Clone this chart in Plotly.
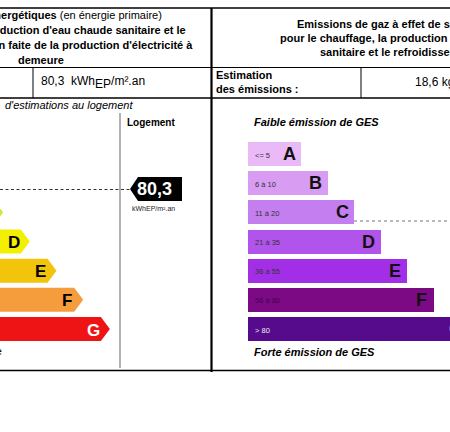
import plotly.graph_objects as go

# ---------------- data ----------------
energy_classes = ["A", "B", "C", "D", "E", "F", "G"]
energy_colors = ["#319834", "#33cc31", "#cbe834", "#f2f000", "#f2c40c", "#f59d3d", "#ee1416"]
energy_letter_colors = ["black", "black", "black", "black", "black", "black", "white"]
energy_value = "80,3"
energy_unit = "kWhEP/m².an"

ges_classes = ["A", "B", "C", "D", "E", "F", "G"]
ges_ranges = ["<= 5", "6 à 10", "11 à 20", "21 à 35", "36 à 55", "56 à 80", "> 80"]
ges_colors = ["#eabaf8", "#d89cf3", "#c47ef0", "#b154ec", "#a22fe6", "#7c0a84", "#560a8c"]
ges_letter_colors = ["#111111", "#111111", "#111111", "#111111", "#111111", "#111111", "#eeeeee"]
ges_range_colors = ["#333333", "#333333", "#333333", "#333333", "#333333", "#4a0050", "#f0f0f0"]
ges_value = "18,6"

# ---------------- layout geometry ----------------
row_c0, row_step, half_h = 154, 29.17, 12
energy_tip0, step_len, depth = -77, 26.7, 9
ges_left, ges_step = 248, 26.5

FONT = "Liberation Sans, Arial, sans-serif"
fig = go.Figure()

ann = []
def text(x, y, t, size=11, color="black", xanchor="left", bold=False, italic=False):
    if bold:
        t = "<b>" + t + "</b>"
    if italic:
        t = "<i>" + t + "</i>"
    ann.append(dict(x=x, y=y, xref="x", yref="y", text=t, showarrow=False,
                    xanchor=xanchor, yanchor="middle",
                    font=dict(family=FONT, size=size, color=color)))

# energy arrows
for i, (c, col) in enumerate(zip(energy_classes, energy_colors)):
    yc = row_c0 + i * row_step
    tip = energy_tip0 + (i + 1) * step_len
    xs = [-150, tip - depth, tip, tip - depth, -150, -150]
    ys = [yc - half_h, yc - half_h, yc, yc + half_h, yc + half_h, yc - half_h]
    fig.add_trace(go.Scatter(x=xs, y=ys, fill="toself", fillcolor=col, mode="lines",
                             line=dict(width=0, color=col), hoverinfo="skip", showlegend=False))
    if tip - 16 > 0:
        text(tip - 16, yc + 1, c, size=17, color=energy_letter_colors[i], xanchor="center", bold=True)

# GES bars
ges_y = [row_c0 + i * row_step for i in range(len(ges_classes))]
ges_w = [(i + 2) * ges_step for i in range(len(ges_classes))]
fig.add_trace(go.Bar(y=ges_y, x=ges_w, base=ges_left, orientation="h", width=24,
                     marker=dict(color=ges_colors, line=dict(width=0)),
                     hoverinfo="skip", showlegend=False))
for i, c in enumerate(ges_classes):
    yc = ges_y[i]
    right = ges_left + ges_w[i]
    if i < len(ges_classes) - 1:
        text(right - 12, yc, c, size=18, color=ges_letter_colors[i], xanchor="center", bold=True)
    else:
        text(447, yc, c, size=18, color=ges_letter_colors[i], xanchor="left", bold=True)
    text(253, yc + 1, ges_ranges[i], size=7.5, color=ges_range_colors[i])

# label arrow (energy value)
lab_y = 189
fig.add_trace(go.Scatter(x=[130, 138, 182, 182, 138, 130], y=[lab_y, lab_y - 12, lab_y - 12, lab_y + 12, lab_y + 12, lab_y],
                         fill="toself", fillcolor="black", mode="lines", line=dict(width=0, color="black"),
                         hoverinfo="skip", showlegend=False))
text(154, lab_y, energy_value, size=18, color="white", xanchor="center", bold=True)
text(153, 208, energy_unit, size=7, color="#222222", xanchor="center")

shapes = []
def line(x0, y0, x1, y1, w=1, color="black", dash="solid"):
    shapes.append(dict(type="line", xref="x", yref="y", x0=x0, y0=y0, x1=x1, y1=y1,
                       line=dict(width=w, color=color, dash=dash), layer="above"))

# table frame
line(0, 8, 450, 8, 1.5)
line(0, 67.5, 450, 67.5, 1.2)
line(0, 98, 450, 98, 1.5)
line(0, 370.5, 450, 370.5, 1.5)
line(211.5, 8, 211.5, 372, 2.2)
line(33, 67.5, 33, 98, 1)
line(361, 67.5, 361, 98, 1)
line(120, 113, 120, 368, 1.3, "#888888")
# dashed value lines
line(0, 189.5, 130, 189.5, 1, "#333333", "3px,2.5px")
line(354, 221, 450, 221, 1.2, "#777777", "dot")

# header texts (left)
text(164, 15, "<b>Consommations énergétiques</b> (en énergie primaire)", xanchor="right")
text(188, 30, "pour le chauffage, la production d'eau chaude sanitaire et le", xanchor="right", bold=True)
text(195, 45, "refroidissement, déduction faite de la production d'électricité à", xanchor="right", bold=True)
text(40.5, 60, "demeure", xanchor="center", bold=True)
text(39, 82, "80,3  kWh<sub><span style=\"font-size:12px\">EP</span></sub>/m².an", size=12)
text(3, 105, "d'estimations au logement", italic=True)
text(125, 122, "Logement", size=10, bold=True)
text(4, 351, "Logement énergivore", size=11, xanchor="right")

# header texts (right)
text(295, 24, "Emissions de gaz à effet de serre (GES)", bold=True)
text(278, 38, "pour le chauffage, la production d'eau chaude", bold=True)
text(318, 52, "sanitaire et le refroidissement", bold=True)
text(214, 75, "Estimation", bold=True)
text(214, 89, "des émissions :", bold=True)
text(413, 82, ges_value + " kg éqCO2/m².an", size=12)
text(252, 122, "Faible émission de GES", bold=True, italic=True)
text(252, 352, "Forte émission de GES", bold=True, italic=True)

fig.update_layout(
    width=450, height=432, margin=dict(l=0, r=0, t=0, b=0),
    paper_bgcolor="white", plot_bgcolor="white",
    xaxis=dict(range=[0, 450], visible=False, fixedrange=True),
    yaxis=dict(range=[432, 0], visible=False, fixedrange=True),
    annotations=ann, shapes=shapes, bargap=0, font=dict(family=FONT),
)
fig.write_html("out.html", config={"displayModeBar": False, "staticPlot": True},
               post_script="document.body.style.margin='0';document.body.style.overflow='hidden';")
